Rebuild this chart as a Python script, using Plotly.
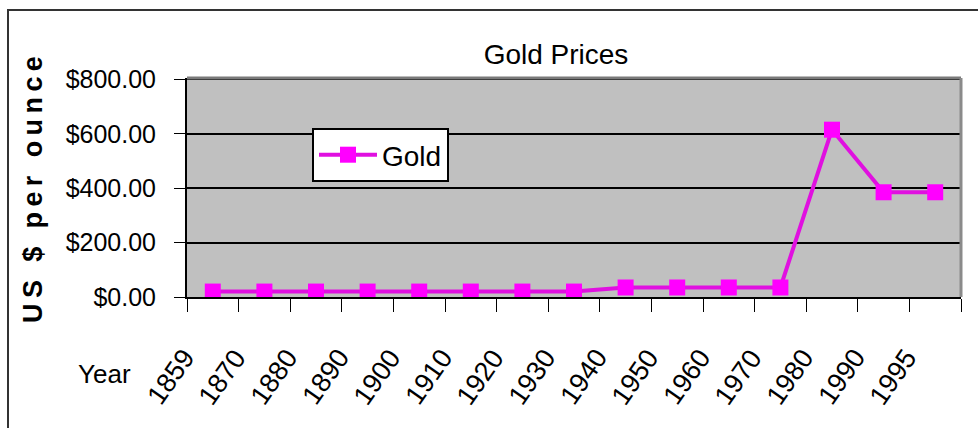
import plotly.graph_objects as go

years = ["1859", "1870", "1880", "1890", "1900", "1910", "1920", "1930",
         "1940", "1950", "1960", "1970", "1980", "1990", "1995"]
gold = [20, 20, 20, 20, 20, 20, 20, 20, 35, 35, 35, 35, 615, 385, 385]
y_ticks = [0, 200, 400, 600, 800]
y_tick_labels = ["$0.00", "$200.00", "$400.00", "$600.00", "$800.00"]

W, H = 978, 428
L, R, T, B = 187, 17, 78, 131
PW, PH = W - L - R, H - T - B


def px(x):
    return (x - L) / PW


def py(y):
    return (H - B - y) / PH


FONT = "Liberation Sans, Arial, sans-serif"

fig = go.Figure()
fig.add_trace(go.Scatter(
    x=years, y=gold, name="Gold", mode="lines+markers",
    line=dict(color="#E010E0", width=4),
    marker=dict(symbol="square", size=16, color="#FF00FF", line=dict(width=0)),
))

year_labels = [
    dict(text=yr, xref="x", x=i, yref="paper", y=py(377), xshift=-42,
         textangle=-55, xanchor="center", yanchor="middle", showarrow=False,
         font=dict(family=FONT, size=27, color="black"))
    for i, yr in enumerate(years)
]

fig.update_layout(
    width=W, height=H,
    margin=dict(l=L, r=R, t=T, b=B, pad=0),
    paper_bgcolor="white",
    plot_bgcolor="#C0C0C0",
    font=dict(family=FONT, size=26, color="black"),
    title=dict(text="Gold Prices", x=px(556), xref="paper", xanchor="center",
               y=1 - 54 / H, yref="container", yanchor="middle",
               font=dict(family=FONT, size=28, color="black")),
    showlegend=True,
    legend=dict(x=px(312), y=py(128), xanchor="left", yanchor="top",
                bgcolor="white", bordercolor="black", borderwidth=2,
                font=dict(family=FONT, size=28, color="black"),
                itemwidth=58),
    xaxis=dict(type="category", tickson="boundaries", ticks="outside",
               ticklen=13, tickcolor="black", tickwidth=1,
               showline=True, linecolor="black", linewidth=2,
               showgrid=False, showticklabels=False,
               range=[-0.5, len(years) - 0.5], fixedrange=True),
    yaxis=dict(range=[0, 805], tickvals=y_ticks, ticktext=y_tick_labels,
               ticks="outside", ticklen=11, tickcolor="black",
               showline=True, linecolor="black", linewidth=2,
               showgrid=True, gridcolor="black", gridwidth=2,
               zeroline=False, ticklabelstandoff=13,
               tickfont=dict(family=FONT, size=25, color="black")),
    shapes=[
        dict(type="line", xref="paper", yref="paper", x0=0, x1=1, y0=1, y1=1,
             line=dict(color="#7a7a7a", width=3)),
        dict(type="line", xref="paper", yref="paper", x0=1, x1=1, y0=0, y1=1,
             line=dict(color="#8a8a8a", width=3)),
        dict(type="rect", xref="paper", yref="paper",
             x0=px(8), x1=px(990), y0=py(440), y1=py(10),
             line=dict(color="#333333", width=2), fillcolor="rgba(0,0,0,0)"),
    ],
    annotations=[
        dict(text="U\u2009S\u2009 \u2009$\u2009 \u2009p\u2009e\u2009r\u2009 \u2009o\u2009u\u2009n\u2009c\u2009e",
             textangle=-90, xref="paper", yref="paper",
             x=px(33), y=py(190), xanchor="center", yanchor="middle",
             showarrow=False,
             font=dict(family=FONT, size=27, color="black", weight="bold")),
        dict(text="Year", xref="paper", yref="paper", x=px(104), y=py(374),
             xanchor="center", yanchor="middle", showarrow=False,
             font=dict(family=FONT, size=26, color="black")),
    ] + year_labels,
)

fig.write_html("out.html")
